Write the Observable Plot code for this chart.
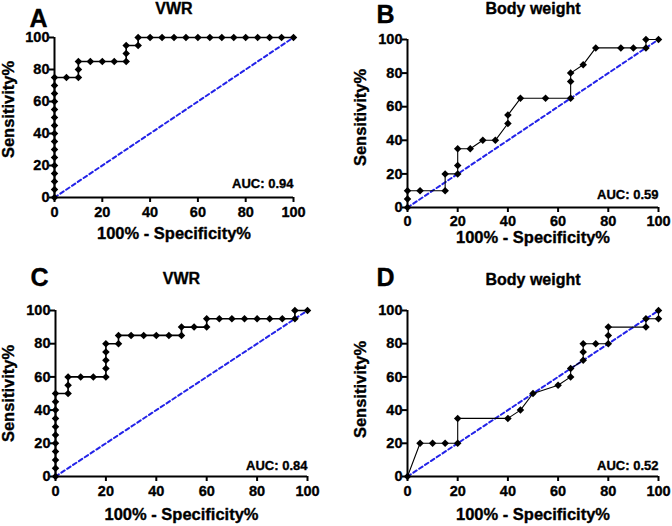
<!DOCTYPE html>
<html>
<head>
<meta charset="utf-8">
<script src="https://cdn.jsdelivr.net/npm/d3@7"></script>
<script src="https://cdn.jsdelivr.net/npm/@observablehq/plot@0.6"></script>
<style>
  html, body { margin: 0; padding: 0; background: #fff; }
  #wrap { position: relative; width: 672px; height: 526px; overflow: hidden; }
  .panel { position: absolute; }
  svg { font-family: "Liberation Sans", Arial, sans-serif; }
</style>
</head>
<body>
<div id="wrap"></div>
<script>
// ---- data (percent) ----
const xTicks = [0, 20, 40, 60, 80, 100];
const yTicks = [0, 20, 40, 60, 80, 100];
const diag = [0, 100];

const aFpr = [0,0,0,0,0,0,0,0,0,0,0,0,0,0,0,0,5,10,10,10,15,20,25,30,30,30,35,35,40,45,50,55,60,65,70,75,80,85,90,95,100];
const aTpr = [0,5,10,15,20,25,30,35,40,45,50,55,60,65,70,75,75,75,80,85,85,85,85,85,90,95,95,100,100,100,100,100,100,100,100,100,100,100,100,100,100];

const bFpr = [0,0,0,5,15,15,20,20,20,25,30,35,40,40,45,55,65,65,65,70,75,85,90,95,95,100];
const bTpr = [0,5,10,10,10,20,20,25,35,35,40,40,50,55,65,65,65,75,80,85,95,95,95,95,100,100];

const cFpr = [0,0,0,0,0,0,0,0,0,0,0,5,5,5,10,15,20,20,20,20,20,25,25,30,35,40,45,50,50,55,60,60,65,70,75,80,85,90,95,95,100];
const cTpr = [0,5,10,15,20,25,30,35,40,45,50,50,55,60,60,60,60,65,70,75,80,80,85,85,85,85,85,85,90,90,90,95,95,95,95,95,95,95,95,100,100];

const dFpr = [0,5,10,15,20,20,40,45,50,60,65,65,70,70,70,75,80,80,80,95,95,100,100];
const dTpr = [0,20,20,20,20,35,35,40,50,55,60,65,70,75,80,80,80,85,90,90,95,95,100];

const panels = [
  {letter: "A", title: "VWR", auc: "AUC: 0.94", fpr: aFpr, tpr: aTpr, left: 0, top: 0,
   m: [37, 43, 66, 54], lw: 1.6, tk: 15, xl: 36, yl: -46, yldy: -8, aucDy: -14, tDy: -29, lDx: -16, lDy: -19},
  {letter: "B", title: "Body weight", auc: "AUC: 0.59", fpr: bFpr, tpr: bTpr, left: 336, top: 0,
   m: [39, 14, 56, 71], lw: 1.1, tk: 14, xl: 30, yl: -47, yldy: -6, aucDy: -13, tDy: -31, lDx: -22, lDy: -25},
  {letter: "C", title: "VWR", auc: "AUC: 0.84", fpr: cFpr, tpr: cTpr, left: 0, top: 263,
   m: [47, 29, 50, 55], lw: 1.6, tk: 15, xl: 38, yl: -47, yldy: 0, aucDy: -11, tDy: -32, lDx: -16, lDy: -33},
  {letter: "D", title: "Body weight", auc: "AUC: 0.52", fpr: dFpr, tpr: dTpr, left: 336, top: 263,
   m: [47, 14, 50, 71], lw: 1.1, tk: 14.5, xl: 38, yl: -47, yldy: -4, aucDy: -11, tDy: -31, lDx: -22, lDy: -33}
];

const wrap = document.getElementById("wrap");
const font = "Liberation Sans, Arial, sans-serif";
const txt = {fontWeight: "bold", fill: "#000", stroke: "#000", strokeWidth: 0.35, lineAnchor: "middle"};

for (const p of panels) {
  const chart = Plot.plot({
    width: 336,
    height: 263,
    marginTop: p.m[0],
    marginRight: p.m[1],
    marginBottom: p.m[2],
    marginLeft: p.m[3],
    style: {fontFamily: font, fontWeight: "bold", background: "transparent", overflow: "visible"},
    x: {domain: [0, 100]},
    y: {domain: [0, 100]},
    marks: [
      Plot.line(diag, {x: diag, y: diag, stroke: "#2323e8", strokeWidth: 2, strokeDasharray: "4,3"}),
      Plot.line(p.fpr, {x: p.fpr, y: p.tpr, stroke: "#000", strokeWidth: p.lw}),
      Plot.dot(p.fpr, {x: p.fpr, y: p.tpr, symbol: "diamond2", r: 3.4, fill: "#000", stroke: "none"}),
      Plot.axisX({ticks: xTicks, tickSize: 5, tickFormat: () => "", strokeWidth: 2, label: null}),
      Plot.axisY({ticks: yTicks, tickSize: 5, tickFormat: () => "", strokeWidth: 2, label: null}),
      Plot.text(xTicks, {...txt, x: (d) => d, frameAnchor: "bottom", textAnchor: "middle", dy: p.tk, fontSize: 14.5}),
      Plot.text(yTicks, {...txt, y: (d) => d, frameAnchor: "left", textAnchor: "end", dx: -5, fontSize: 14.5}),
      Plot.ruleY([0], {strokeWidth: 2, stroke: "#000"}),
      Plot.ruleX([0], {strokeWidth: 2, stroke: "#000"}),
      Plot.text(["100% - Specificity%"], {...txt, frameAnchor: "bottom", textAnchor: "middle", dy: p.xl, fontSize: 16.5}),
      Plot.text(["Sensitivity%"], {...txt, frameAnchor: "left", textAnchor: "middle", dx: p.yl, dy: p.yldy, rotate: -90, fontSize: 16.5}),
      Plot.text([p.auc], {...txt, frameAnchor: "bottom-right", textAnchor: "end", dy: p.aucDy, fontSize: 13}),
      Plot.text([p.title], {...txt, frameAnchor: "top", textAnchor: "middle", dy: p.tDy, fontSize: 16}),
      Plot.text([p.letter], {...txt, frameAnchor: "top-left", textAnchor: "middle", dx: p.lDx, dy: p.lDy, fontSize: 25})
    ]
  });
  const div = document.createElement("div");
  div.className = "panel";
  div.style.left = p.left + "px";
  div.style.top = p.top + "px";
  div.appendChild(chart);
  wrap.appendChild(div);
}
</script>
</body>
</html>
